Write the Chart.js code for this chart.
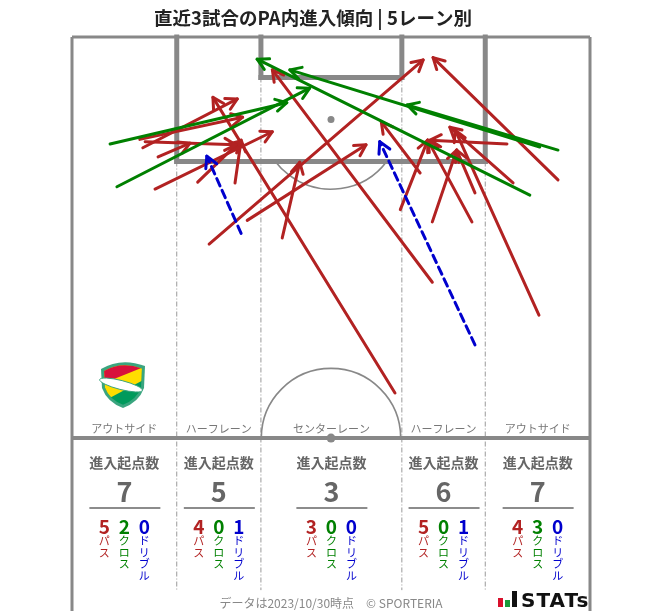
<!DOCTYPE html>
<html lang="ja">
<head>
<meta charset="utf-8">
<title>直近3試合のPA内進入傾向 | 5レーン別</title>
<script src="https://cdn.jsdelivr.net/npm/chart.js@4.4.1/dist/chart.umd.min.js"></script>
<style>
html, body { margin: 0; padding: 0; background: #fff; }
#wrap { position: relative; width: 663px; height: 611px; }
</style>
</head>
<body>
<div id="wrap"><canvas id="pitch" width="663" height="611"></canvas></div>
<script>
// pitch in metres: x across (0-68), y from the goal line (0) down past halfway (52.5)
const laneNames = ['アウトサイド', 'ハーフレーン', 'センターレーン', 'ハーフレーン', 'アウトサイド'];
const laneTotals = [7, 5, 3, 6, 7];
const passCounts = [5, 4, 3, 5, 4];
const crossCounts = [2, 0, 0, 0, 3];
const dribbleCounts = [0, 1, 0, 1, 0];

// [startX, startY, endX, endY]
const passes = [
	[9.3, 14.5, 21.7, 8.1],
	[8.9, 13.4, 22.4, 10.5],
	[11.3, 15.7, 15.5, 13.9],
	[9.6, 13.7, 21.5, 14.1],
	[10.9, 19.9, 26.3, 12.4],
	[16.5, 19.0, 22.1, 13.6],
	[21.4, 19.1, 22.2, 13.5],
	[18.0, 27.1, 46.1, 3.0],
	[23.0, 24.0, 38.6, 14.1],
	[42.4, 46.6, 18.5, 7.9],
	[27.6, 26.3, 29.9, 16.4],
	[43.1, 22.6, 46.7, 13.5],
	[47.3, 32.1, 26.3, 4.3],
	[45.7, 17.8, 40.6, 11.1],
	[52.5, 24.2, 46.7, 13.5],
	[47.3, 24.2, 50.5, 14.8],
	[52.9, 20.4, 50.5, 14.8],
	[57.1, 14.0, 47.0, 13.5],
	[57.9, 19.1, 49.6, 11.8],
	[61.3, 36.4, 50.3, 12.2],
	[63.8, 18.7, 47.4, 2.7],
];
const crosses = [
	[5.0, 14.0, 28.2, 8.6],
	[5.9, 19.6, 31.2, 6.7],
	[63.8, 14.8, 44.0, 8.9],
	[61.4, 14.4, 28.6, 4.3],
	[60.1, 20.7, 24.3, 2.9],
];
const dribbles = [
	[22.2, 25.7, 17.7, 15.6],
	[52.9, 40.3, 40.4, 13.7],
];

const laneEdges = [0, 13.75, 24.8, 43.3, 54.25, 68];
const RED = '#b22222';
const GREEN = '#008000';
const BLUE = '#0000cd';
const LINE = '#888';
const JP = '"Noto Sans CJK JP", "Noto Sans", sans-serif';

function arrowSets(list, color, dash, order) {
	return list.map((a) => ({
		data: [{ x: a[0], y: a[1] }, { x: a[2], y: a[3] }],
		showLine: true,
		borderColor: color,
		borderWidth: 3,
		borderDash: dash,
		borderCapStyle: 'round',
		pointRadius: 0,
		pointHoverRadius: 0,
		order,
	}));
}

function drawCrest(ctx, cx, cy) {
	ctx.save();
	const shield = new Path2D();
	shield.moveTo(cx - 22, cy - 15);
	shield.quadraticCurveTo(cx - 2, cy - 27, cx + 22, cy - 18);
	shield.lineTo(cx + 21, cy + 4);
	shield.quadraticCurveTo(cx + 16, cy + 18, cx, cy + 24);
	shield.quadraticCurveTo(cx - 16, cy + 18, cx - 21, cy + 4);
	shield.closePath();
	ctx.fillStyle = '#3aa57f';
	ctx.fill(shield);
	ctx.translate(cx, cy);
	ctx.scale(0.86, 0.86);
	ctx.translate(-cx, -cy);
	ctx.clip(shield);
	ctx.fillStyle = '#009a5c';
	ctx.fillRect(cx - 30, cy - 30, 60, 60);
	ctx.beginPath();
	ctx.moveTo(cx - 30, cy - 30);
	ctx.lineTo(cx + 30, cy - 30);
	ctx.lineTo(cx + 30, cy - 8);
	ctx.lineTo(cx - 30, cy + 24);
	ctx.closePath();
	ctx.fillStyle = '#ffdd00';
	ctx.fill();
	ctx.beginPath();
	ctx.moveTo(cx - 30, cy - 30);
	ctx.lineTo(cx + 30, cy - 30);
	ctx.lineTo(cx + 30, cy - 22);
	ctx.lineTo(cx - 30, cy + 2);
	ctx.closePath();
	ctx.fillStyle = '#d8103c';
	ctx.fill();
	ctx.restore();
	ctx.save();
	ctx.fillStyle = '#fff';
	ctx.strokeStyle = '#3aa57f';
	ctx.lineWidth = 1;
	ctx.beginPath();
	ctx.ellipse(cx - 2, cy + 1, 22, 4.5, 0.25, 0, Math.PI * 2);
	ctx.fill();
	ctx.stroke();
	ctx.restore();
}

const pitchLines = {
	id: 'pitchLines',
	beforeDatasetsDraw(chart) {
		const { ctx, scales: { x, y } } = chart;
		const px = (v) => x.getPixelForValue(v);
		const py = (v) => y.getPixelForValue(v);
		const mToPx = px(1) - px(0);
		const seg = (x1, y1, x2, y2) => {
			ctx.beginPath();
			ctx.moveTo(px(x1), py(y1));
			ctx.lineTo(px(x2), py(y2));
			ctx.stroke();
		};

		ctx.save();
		// lane dividers
		ctx.strokeStyle = '#999';
		ctx.lineWidth = 1;
		ctx.setLineDash([5, 2, 1, 2]);
		seg(laneEdges[1], 16.3, laneEdges[1], 72.4);
		seg(laneEdges[4], 16.3, laneEdges[4], 72.4);
		seg(laneEdges[2], 5.3, laneEdges[2], 72.4);
		seg(laneEdges[3], 5.3, laneEdges[3], 72.4);
		ctx.setLineDash([]);

		ctx.strokeStyle = LINE;
		ctx.lineWidth = 3;
		seg(0, 0, 68, 0);
		seg(0, 0, 0, 76);
		seg(68, 0, 68, 76);

		ctx.lineWidth = 5;
		ctx.lineCap = 'square';
		seg(13.75, 0, 13.75, 16.3);
		seg(54.25, 0, 54.25, 16.3);
		seg(13.75, 16.3, 54.25, 16.3);
		seg(24.8, 0, 24.8, 5.3);
		seg(43.3, 0, 43.3, 5.3);
		seg(24.8, 5.3, 43.3, 5.3);
		ctx.lineCap = 'butt';
		ctx.lineWidth = 4;
		seg(0, 52.5, 68, 52.5);

		ctx.lineWidth = 1.6;
		const r = 9.15 * mToPx;
		const a = Math.asin((16.3 - 10.8) / 9.15);
		ctx.beginPath();
		ctx.arc(px(34), py(10.8), r, a, Math.PI - a);
		ctx.stroke();
		ctx.beginPath();
		ctx.arc(px(34), py(52.5), r, Math.PI, Math.PI * 2);
		ctx.stroke();

		ctx.fillStyle = LINE;
		ctx.beginPath();
		ctx.arc(px(34), py(10.8), 3.5, 0, Math.PI * 2);
		ctx.fill();
		ctx.beginPath();
		ctx.arc(px(34), py(52.5), 4.5, 0, Math.PI * 2);
		ctx.fill();

		drawCrest(ctx, 123, 384);
		ctx.restore();
	},
};

const arrowHeads = {
	id: 'arrowHeads',
	afterDatasetDraw(chart, args) {
		const ds = chart.data.datasets[args.index];
		const pts = args.meta.data;
		if (!pts || pts.length < 2) {
			return;
		}
		const p0 = pts[0];
		const p1 = pts[1];
		const ang = Math.atan2(p1.y - p0.y, p1.x - p0.x);
		const len = 12.5;
		const spread = 0.5;
		const { ctx } = chart;
		ctx.save();
		ctx.strokeStyle = ds.borderColor;
		ctx.lineWidth = 3;
		ctx.lineCap = 'round';
		ctx.lineJoin = 'round';
		ctx.beginPath();
		ctx.moveTo(p1.x - len * Math.cos(ang - spread), p1.y - len * Math.sin(ang - spread));
		ctx.lineTo(p1.x, p1.y);
		ctx.lineTo(p1.x - len * Math.cos(ang + spread), p1.y - len * Math.sin(ang + spread));
		ctx.stroke();
		ctx.restore();
	},
};

const labels = {
	id: 'labels',
	afterDraw(chart) {
		const { ctx, scales: { x } } = chart;
		ctx.save();
		ctx.textAlign = 'center';
		ctx.textBaseline = 'middle';

		ctx.fillStyle = '#222';
		ctx.font = `bold 18.5px ${JP}`;
		ctx.fillText('直近3試合のPA内進入傾向 | 5レーン別', 313, 18);

		const kinds = [
			{ counts: passCounts, color: RED, word: 'パス' },
			{ counts: crossCounts, color: GREEN, word: 'クロス' },
			{ counts: dribbleCounts, color: BLUE, word: 'ドリブル' },
		];

		laneNames.forEach((name, i) => {
			const cx = x.getPixelForValue((laneEdges[i] + laneEdges[i + 1]) / 2);
			ctx.fillStyle = '#777';
			ctx.font = `11px ${JP}`;
			ctx.fillText(name, cx, 429);

			ctx.fillStyle = '#666';
			ctx.font = `bold 14px ${JP}`;
			ctx.fillText('進入起点数', cx, 463);
			ctx.font = `bold 27px ${JP}`;
			ctx.fillText(String(laneTotals[i]), cx, 492);

			ctx.strokeStyle = '#666';
			ctx.lineWidth = 1.5;
			ctx.beginPath();
			ctx.moveTo(cx - 35, 508);
			ctx.lineTo(cx + 36, 508);
			ctx.stroke();

			kinds.forEach((k, j) => {
				const kx = cx + (j - 1) * 20;
				ctx.fillStyle = k.color;
				ctx.font = `bold 19px ${JP}`;
				ctx.fillText(String(k.counts[i]), kx, 527);
				ctx.font = `11px ${JP}`;
				Array.from(k.word).forEach((ch, n) => {
					ctx.fillText(ch, kx, 541 + n * 11.5);
				});
			});
		});

		ctx.fillStyle = '#888';
		ctx.font = `12px ${JP}`;
		ctx.fillText('データは2023/10/30時点　© SPORTERIA', 331, 603);

		// STATs mark
		ctx.fillStyle = '#d8102c';
		ctx.fillRect(498, 598, 5, 9);
		ctx.fillStyle = '#1a9a3a';
		ctx.fillRect(505, 600, 5, 7);
		ctx.fillStyle = '#111';
		ctx.fillRect(512, 591, 5, 16);
		ctx.textAlign = 'left';
		ctx.textBaseline = 'alphabetic';
		ctx.font = 'bold 20px "DejaVu Sans", sans-serif';
		ctx.letterSpacing = '1px';
		ctx.fillText('STATs', 521, 607);
		ctx.restore();
	},
};

const datasets = [
	...arrowSets(passes, RED, [], 3),
	...arrowSets(crosses, GREEN, [], 2),
	...arrowSets(dribbles, BLUE, [8, 5], 1),
];

new Chart(document.getElementById('pitch'), {
	type: 'scatter',
	data: { datasets },
	options: {
		responsive: false,
		animation: false,
		events: [],
		layout: { padding: { left: 72, right: 73, top: 37, bottom: 1 } },
		scales: {
			x: { type: 'linear', min: 0, max: 68, display: false },
			y: { type: 'linear', min: 0, max: 75, reverse: true, display: false },
		},
		plugins: {
			legend: { display: false },
			tooltip: { enabled: false },
		},
	},
	plugins: [pitchLines, arrowHeads, labels],
});
</script>
</body>
</html>
